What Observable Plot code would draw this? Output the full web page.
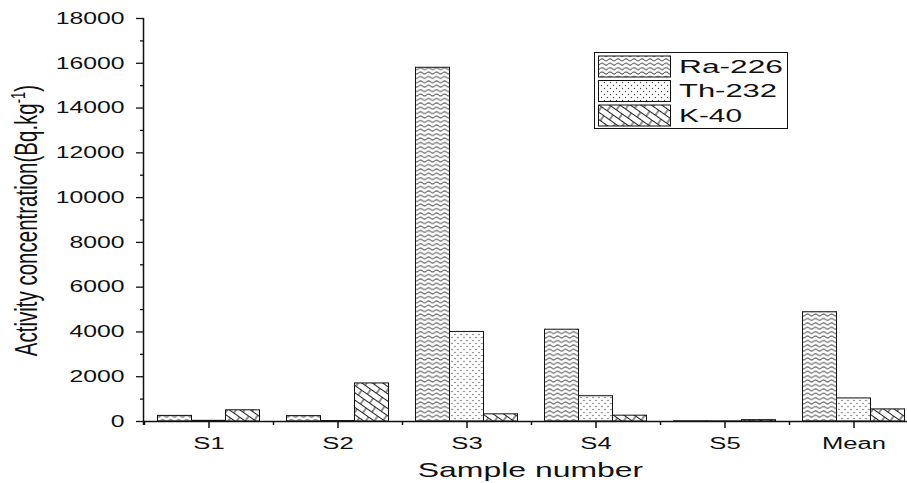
<!DOCTYPE html>
<html><head><meta charset="utf-8">
<script src="https://cdn.jsdelivr.net/npm/d3@7"></script>
<script src="https://cdn.jsdelivr.net/npm/@observablehq/plot@0.6"></script>
<style>
body{margin:0;background:#fff;font-family:"Liberation Sans",Arial,sans-serif}
#wrap{position:relative;width:907px;height:483px;overflow:hidden}
</style>
</head><body><div id="wrap"></div>
<script>
// ---- data ----
const samples = ["S1", "S2", "S3", "S4", "S5", "Mean"];
const series = ["Ra-226", "Th-232", "K-40"];
const ra226 = [250, 240, 15800, 4100, 8, 4880];
const th232 = [30, 20, 4000, 1130, 6, 1030];
const k40 = [500, 1700, 320, 260, 60, 540];
const yMajorTicks = [0, 2000, 4000, 6000, 8000, 10000, 12000, 14000, 16000, 18000];
const yMinorTicks = [1000, 3000, 5000, 7000, 9000, 11000, 13000, 15000, 17000];
const yLabel = "Activity concentration(Bq.kg";
const yLabelSup = "-1";
const xLabel = "Sample number";

const valuesBySeries = [ra226, th232, k40];
const patternIds = ["pat-ra", "pat-th", "pat-k"];
const table = samples.flatMap((s, i) => series.map((name, k) => ({sample: s, series: name, value: valuesBySeries[k][i]})));

// ---- layout ----
const W = 907, H = 483, mL = 143.5, mR = -10.5, mT = 18, mB = 62;
const step = (W - mL - mR) / samples.length;

const plot = Plot.plot({
  width: W, height: H,
  marginLeft: mL, marginRight: mR, marginTop: mT, marginBottom: mB,
  style: {fontFamily: "'Liberation Sans', Arial, sans-serif", background: "transparent", overflow: "hidden", color: "#111"},
  fx: {domain: samples, padding: 0, label: null},
  x: {domain: series, paddingInner: 0, paddingOuter: 0.375, axis: null},
  y: {domain: [0, 18000], label: null},
  marks: [
    ...series.map((name, k) => Plot.barY(table.filter(d => d.series === name), {
      fx: "sample", x: "series", y: "value",
      fill: `url(#${patternIds[k]})`, stroke: "#111", strokeWidth: 1
    })),
    Plot.ruleY([0], {stroke: "#111", strokeWidth: 1.5}),
    Plot.axisY({ticks: yMajorTicks, tickSize: 8, tickPadding: 12, fontSize: 16.5, tickFormat: d3.format("d"), label: null, strokeWidth: 1.3}),
    Plot.axisY({ticks: yMinorTicks, tickSize: 4, tickFormat: () => "", label: null, strokeWidth: 1.3}),
    Plot.axisFx({ticks: samples, anchor: "bottom", tickSize: 7, tickPadding: 9, fontSize: 16, label: null, strokeWidth: 1.5}),
    Plot.axisFx({ticks: samples, anchor: "bottom", tickSize: 4, tickFormat: () => "", dx: -step / 2, label: null, strokeWidth: 1.5})
  ]
});
document.getElementById("wrap").appendChild(plot);

const svg = d3.select(plot);
const y = plot.scale("y");

// ---- patterns ----
const defs = svg.insert("defs", ":first-child");
{
  const p = defs.append("pattern").attr("id", "pat-ra").attr("patternUnits", "userSpaceOnUse").attr("width", 8).attr("height", 4.4);
  p.append("rect").attr("width", 8).attr("height", 4.4).attr("fill", "#fff");
  p.append("path").attr("d", "M0 2.6 Q2 0.6 4 2.6 T8 2.6").attr("fill", "none").attr("stroke", "#555").attr("stroke-width", 1);
}
{
  const p = defs.append("pattern").attr("id", "pat-th").attr("patternUnits", "userSpaceOnUse").attr("width", 6).attr("height", 6);
  p.append("rect").attr("width", 6).attr("height", 6).attr("fill", "#fff");
  p.append("circle").attr("cx", 1.5).attr("cy", 1.5).attr("r", 0.7).attr("fill", "#444");
  p.append("circle").attr("cx", 4.5).attr("cy", 4.5).attr("r", 0.7).attr("fill", "#444");
}
{
  const p = defs.append("pattern").attr("id", "pat-k").attr("patternUnits", "userSpaceOnUse").attr("width", 14).attr("height", 12).attr("patternTransform", "rotate(35)");
  p.append("rect").attr("width", 14).attr("height", 12).attr("fill", "#fff");
  p.append("path").attr("d", "M0 0.5H14M0 6.5H14M1 0.5V6.5M8 6.5V12.5").attr("fill", "none").attr("stroke", "#222").attr("stroke-width", 1);
}

// ---- stretched text (the reference is horizontally stretched) ----
function stretch(sel, f) {
  sel.each(function() {
    const len = this.getComputedTextLength();
    if (len > 0) {
      this.setAttribute("textLength", len * f);
      this.setAttribute("lengthAdjust", "spacingAndGlyphs");
    }
  });
}
stretch(svg.selectAll('g[aria-label="y-axis tick label"] text'), 1.5);
stretch(svg.selectAll('g[aria-label="fx-axis tick label"] text'), 1.6);

// ---- axis line ----
svg.append("line").attr("x1", mL).attr("x2", mL).attr("y1", y.apply(18000)).attr("y2", y.apply(0) + 4)
  .attr("stroke", "#111").attr("stroke-width", 1.5);

// ---- axis titles ----
const yl = svg.append("text").attr("transform", "translate(37,220.5) rotate(-90) scale(1,1.5)")
  .attr("text-anchor", "middle").attr("font-size", 20.5).attr("fill", "#111");
yl.append("tspan").text(yLabel);
yl.append("tspan").attr("dy", -8).attr("font-size", 13).text(yLabelSup);
yl.append("tspan").attr("dy", 8).text(")");

const xl = svg.append("text").attr("x", (mL + W - mR) / 2).attr("y", 477)
  .attr("text-anchor", "middle").attr("font-size", 21).attr("fill", "#111").text(xLabel);
stretch(xl, 1.52);

// ---- legend ----
const lg = svg.append("g").attr("text-anchor", "start");
lg.append("rect").attr("x", 594.5).attr("y", 52.5).attr("width", 193).attr("height", 76)
  .attr("fill", "#fff").attr("stroke", "#111").attr("stroke-width", 1);
const rowTop = [56, 80.5, 105];
const legendTextWidth = [104, 98, 63];
series.forEach((name, k) => {
  lg.append("rect").attr("x", 598.5).attr("y", rowTop[k]).attr("width", 72).attr("height", 21)
    .attr("fill", `url(#${patternIds[k]})`).attr("stroke", "#111").attr("stroke-width", 1);
  lg.append("text").attr("x", 679).attr("y", rowTop[k] + 16.5).attr("font-size", 18.7).attr("fill", "#111")
    .attr("text-anchor", "start")
    .attr("textLength", legendTextWidth[k]).attr("lengthAdjust", "spacingAndGlyphs").text(name);
});
</script>
</body></html>
